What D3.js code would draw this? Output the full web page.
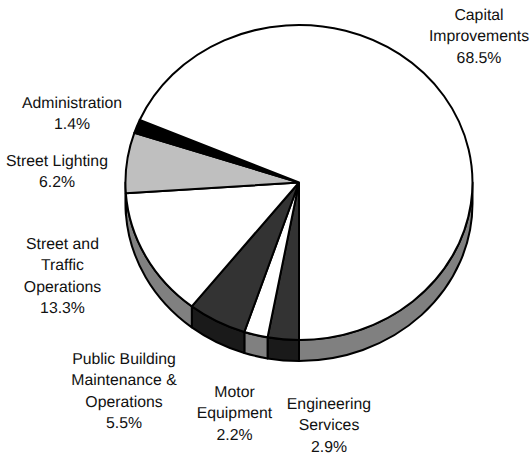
<!DOCTYPE html>
<html>
<head>
<meta charset="utf-8">
<style>
  body { margin: 0; background: #fff; }
  text { font-family: "Liberation Sans", Arial, sans-serif; font-size: 15.8px; fill: #111; text-anchor: middle; text-rendering: geometricPrecision; }
</style>
</head>
<body>
<div id="chart"></div>
<script src="https://d3js.org/d3.v7.min.js"></script>
<script>
// slices in drawing order, clockwise from the bottom of the pie
var categories = [
  ["Engineering", "Services"],
  ["Motor", "Equipment"],
  ["Public Building", "Maintenance &", "Operations"],
  ["Street and", "Traffic", "Operations"],
  ["Street Lighting"],
  ["Administration"],
  ["Capital", "Improvements"]
];
var shares = [2.9, 2.2, 5.5, 13.3, 6.2, 1.4, 68.5];

var topColors = ["#333333", "#ffffff", "#333333", "#ffffff", "#bfbfbf", "#000000", "#ffffff"];
var sideColors = ["#1a1a1a", "#808080", "#1a1a1a", "#808080", "#606060", "#000000", "#808080"];

// hand placed labels: centre x and first baseline
var labelX = [329, 234.5, 124, 62.5, 57, 72, 479];
var labelY = [409, 397, 364, 249, 166, 108, 20];

var width = 532, height = 456;
var cx = 299, cy = 182.5, rx = 173.5, ry = 157.5, depth = 21, lineH = 21.3;

var svg = d3.select("#chart").append("svg")
    .attr("width", width)
    .attr("height", height)
    .style("display", "block");

var pie = d3.pie().sort(null).value(function (d) { return d; })
    .startAngle(Math.PI).endAngle(3 * Math.PI);
var slices = pie(shares);

// unit circle arc, squashed to an ellipse by the group transform
var arc = d3.arc().innerRadius(0).outerRadius(1);

function px(a) { return cx + rx * Math.sin(a); }
function py(a) { return cy - ry * Math.cos(a); }

// wall below the rim between two angles
function wall(a0, a1) {
  return "M" + px(a0) + "," + py(a0)
    + "A" + rx + "," + ry + " 0 0 0 " + px(a1) + "," + py(a1)
    + "L" + px(a1) + "," + (py(a1) + depth)
    + "A" + rx + "," + ry + " 0 0 1 " + px(a0) + "," + (py(a0) + depth)
    + "Z";
}

// the wall only shows on the front half of the rim
var frontRanges = [[Math.PI / 2, 1.5 * Math.PI], [2.5 * Math.PI, 3.5 * Math.PI]];
var walls = [];
slices.forEach(function (s, i) {
  frontRanges.forEach(function (r) {
    var a0 = Math.max(s.startAngle, r[0]);
    var a1 = Math.min(s.endAngle, r[1]);
    if (a1 > a0) walls.push({ a0: a0, a1: a1, i: i });
  });
});

svg.append("g").selectAll("path")
    .data(walls)
    .enter()
    .append("path")
    .attr("d", function (d) {
      // arc runs clockwise on screen going from a0 to a1
      return wall(d.a1, d.a0);
    })
    .attr("fill", function (d) { return sideColors[d.i]; })
    .attr("stroke", "#000")
    .attr("stroke-width", 2)
    .attr("stroke-linejoin", "round");

svg.append("g")
    .attr("transform", "translate(" + cx + "," + cy + ") scale(" + rx + "," + ry + ")")
    .selectAll("path")
    .data(slices)
    .enter()
    .append("path")
    .attr("d", arc)
    .attr("fill", function (d, i) { return topColors[i]; })
    .attr("stroke", "#000")
    .attr("stroke-width", 2)
    .attr("stroke-linejoin", "round")
    .attr("vector-effect", "non-scaling-stroke");

var labels = svg.append("g").selectAll("text")
    .data(categories)
    .enter()
    .append("text")
    .attr("y", function (d, i) { return labelY[i]; });

labels.selectAll("tspan")
    .data(function (d, i) {
      return d.concat(shares[i].toFixed(1) + "%").map(function (t) { return { t: t, x: labelX[i] }; });
    })
    .enter()
    .append("tspan")
    .attr("x", function (d) { return d.x; })
    .attr("dy", function (d, i) { return i === 0 ? 0 : lineH; })
    .text(function (d) { return d.t; });
</script>
</body>
</html>
